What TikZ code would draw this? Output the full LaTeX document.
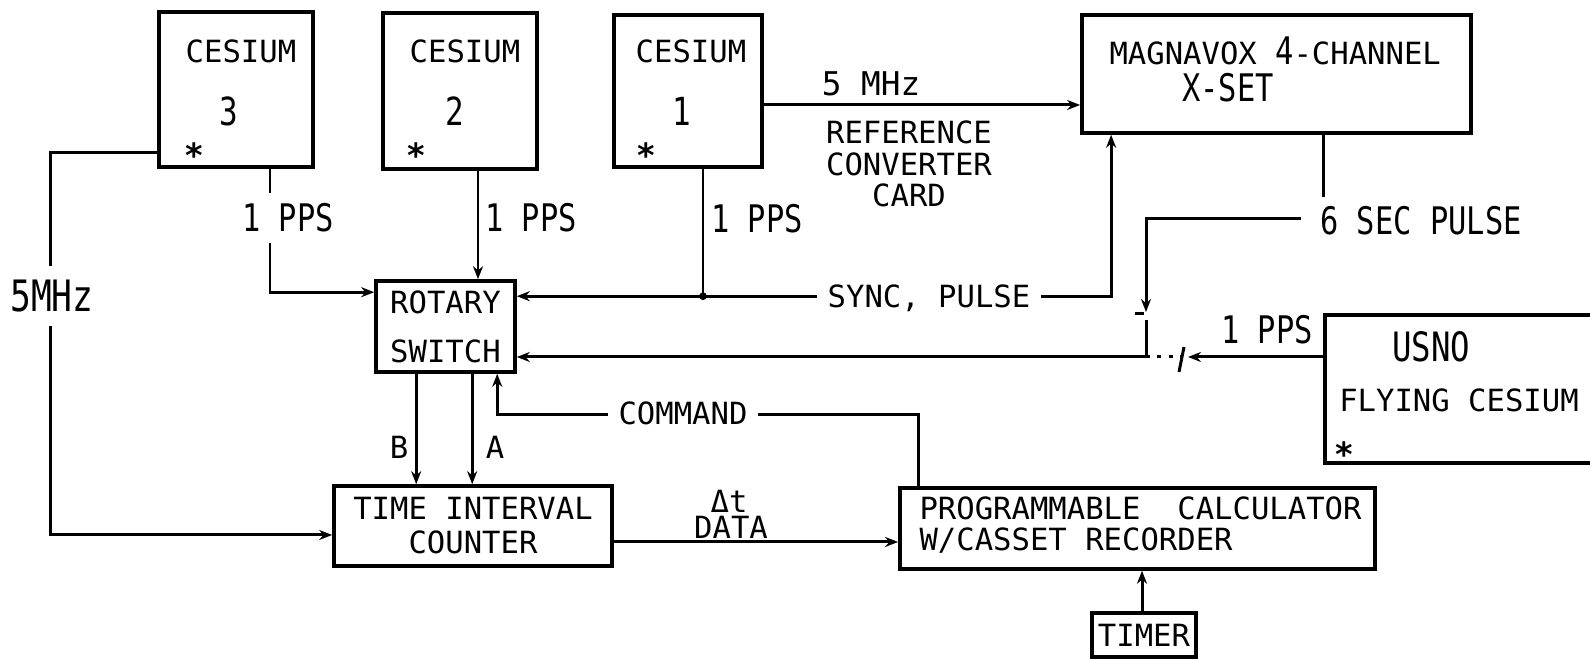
\documentclass[tikz,border=0pt]{standalone}
\usepackage{fontspec}
\usetikzlibrary{arrows.meta,calc,positioning}
\newfontfamily\boxfnt{DejaVu Sans Mono}
\newfontfamily\lblfnt[FakeStretch=0.8]{DejaVu Sans Mono}

\begin{document}
\begin{tikzpicture}[x=0.01cm, y=-0.01cm, line width=0.85pt,
  >={Stealth[length=1.3mm,width=1.0mm]},
  blok/.style={draw,line width=1pt,inner sep=0pt,align=center,
               font=\boxfnt\fontsize{8.7}{9.7}\selectfont},
  yazi/.style={inner sep=0pt,align=center,font=\boxfnt\fontsize{8.7}{9}\selectfont},
  etiket/.style={inner sep=0pt,font=\lblfnt\fontsize{10.8}{12}\selectfont},
  yildiz/.style={inner sep=0pt,font=\boxfnt\bfseries\fontsize{9.5}{10}\selectfont},
  bosluk/.style={fill=white,inner sep=4pt}]
\useasboundingbox (0,0) rectangle (1590,659);

\node[blok,minimum width=1.54cm,minimum height=1.55cm] (c3) at (236,89.5) {};
\node[blok,minimum width=1.54cm,minimum height=1.56cm] (c2) at (460,91) {};
\node[blok,minimum width=1.48cm,minimum height=1.52cm] (c1) at (688,91) {};
\node[blok,minimum width=3.89cm,minimum height=1.18cm] (mag) at (1276.5,74) {};
\node[blok,minimum width=1.39cm,minimum height=0.91cm,
      font=\boxfnt\fontsize{8.7}{14}\selectfont] (rot) at (445.5,326.5) {ROTARY\\SWITCH};
\node[blok,minimum width=2.78cm,minimum height=0.80cm] (tic) at (473,526) {TIME INTERVAL\\COUNTER};
\node[blok,minimum width=4.75cm,minimum height=0.81cm] (prog) at (1137.5,528.5) {};
\node[blok,minimum width=1.04cm,minimum height=0.44cm] (timer) at (1144,635) {TIMER};
\node[blok,minimum width=2.75cm,minimum height=1.48cm] (usno) at (1462.5,389) {};

\foreach \k/\cx/\nx/\sx/\n in {c3/241/229/194/3, c2/465/455/416/2, c1/691/682/646/1} {
  \node[yazi] (\k t) at (\cx,51) {CESIUM};
  \node[etiket,font=\lblfnt\fontsize{11}{12}\selectfont] (\k n) at (\nx,111) {\n};
  \node[yildiz] (\k s) at (\sx,155) {*};
}
\node[yazi,anchor=base west] (magt) at (1108,65)
  {MAGNAVOX {\lblfnt\fontsize{10.8}{12}\selectfont 4}-CHANNEL};
\node[etiket] (magx) at (1228,88) {X-SET};
\node[yazi,anchor=west,align=left,font=\boxfnt\fontsize{8.7}{8.8}\selectfont] (progt) at (918,525.5)
  {PROGRAMMABLE\ \ CALCULATOR\\W/CASSET RECORDER};
\node[etiket,font=\lblfnt\fontsize{11.5}{12}\selectfont] (usnot) at (1431,347) {USNO};
\node[yazi] (usnof) at (1459,400) {FLYING CESIUM};
\node[yildiz] (usnos) at (1344,454) {*};

\coordinate (c3o) at ($(c3.south west)+(0,-16)$);
\draw[->] (c3o) -| ($(tic.west)+(-282,9)$) -- ($(tic.west)+(0,9)$);
\node[etiket,bosluk,font=\lblfnt\fontsize{12.3}{13}\selectfont] (f5) at (52,296) {5MHz};

\coordinate (c3p) at ($(c3.south)+(34,0)$);
\draw[->] (c3p) |- ($(rot.north west)+(0,13)$);
\node[etiket,bosluk,inner sep=3pt] (p3) at (288,218) {1 PPS};

\coordinate (c2p) at ($(c2.south)+(18,0)$);
\draw[->] (c2p) -- (c2p |- rot.north);
\node[etiket] (p2) at (531,218) {1 PPS};

\coordinate (c1p) at ($(c1.south)+(15,0)$);
\coordinate (rotS) at ($(rot.north east)+(0,17)$);
\coordinate (jn) at (c1p |- rotS);
\coordinate (magS) at ($(mag.south west)+(31,0)$);
\draw (c1p) -- (jn);
\draw[->] (jn) -- (rotS);
\draw[->] (jn) -| (magS);
\fill (jn) circle (1.1pt);
\node[etiket] (p1) at (757,219) {1 PPS};
\node[yazi,bosluk,inner sep=3pt] (sync) at (929,298) {SYNC, PULSE};

\coordinate (c1e) at ($(c1.east)+(0,14)$);
\draw[->] (c1e) -- (c1e -| mag.west);
\node[yazi,font=\boxfnt\fontsize{9.3}{10}\selectfont] (mhz) at (871,84) {5 MHz};
\node[yazi] (ref) at (909,164) {REFERENCE\\CONVERTER\\CARD};

\coordinate (magR) at ($(mag.south west)+(243,0)$);
\node[etiket] (six) at (1421,221) {6 SEC PULSE};
\draw (magR) -- ++(0,62);
\coordinate (kap) at (1146,357);
\draw[->] ($(six.west)+(-18,-2)$) -| ($(kap)+(0,-45)$);
\draw ($(kap)+(-11,-43)$) -- ++(9,0);
\draw ($(kap)+(0,-37)$) -- (kap);

\coordinate (uo) at ($(usno.west)+(0,-32)$);
\draw[->] (uo) -- ($(kap)+(42,0)$);
\draw ($(kap)+(38,-10)$) -- ($(kap)+(33,15)$);
\draw[dash pattern=on 1.2pt off 2pt] (kap) -- ($(kap)+(34,0)$);
\draw[->] (kap) -- (kap -| rot.east);
\node[etiket] (pu) at (1267,330) {1 PPS};

\coordinate (bo) at ($(rot.south west)+(42,0)$);
\coordinate (ao) at ($(rot.south west)+(98,0)$);
\foreach \s in {bo, ao} \draw[->] (\s) -- (\s |- tic.north);
\node[yazi] (lb) at (399,447) {B};
\node[yazi] (la) at (495,447) {A};

\coordinate (po) at ($(prog.north west)+(20,0)$);
\coordinate (ri) at ($(rot.south west)+(123,0)$);
\draw[->] (po) |- ($(ri)+(0,41)$) -- (ri);
\node[yazi,bosluk,inner sep=3pt] (cmd) at (683,413) {COMMAND};

\coordinate (to) at ($(tic.east)+(0,16)$);
\draw[->] (to) -- (to -| prog.west);
\node[yazi] (dt) at (729,501) {Δt};
\node[yazi] (data) at (731,527) {DATA};

\coordinate (tm) at ($(timer.north)+(-2,0)$);
\draw[->] (tm) -- (tm |- prog.south);
\end{tikzpicture}
\end{document}
